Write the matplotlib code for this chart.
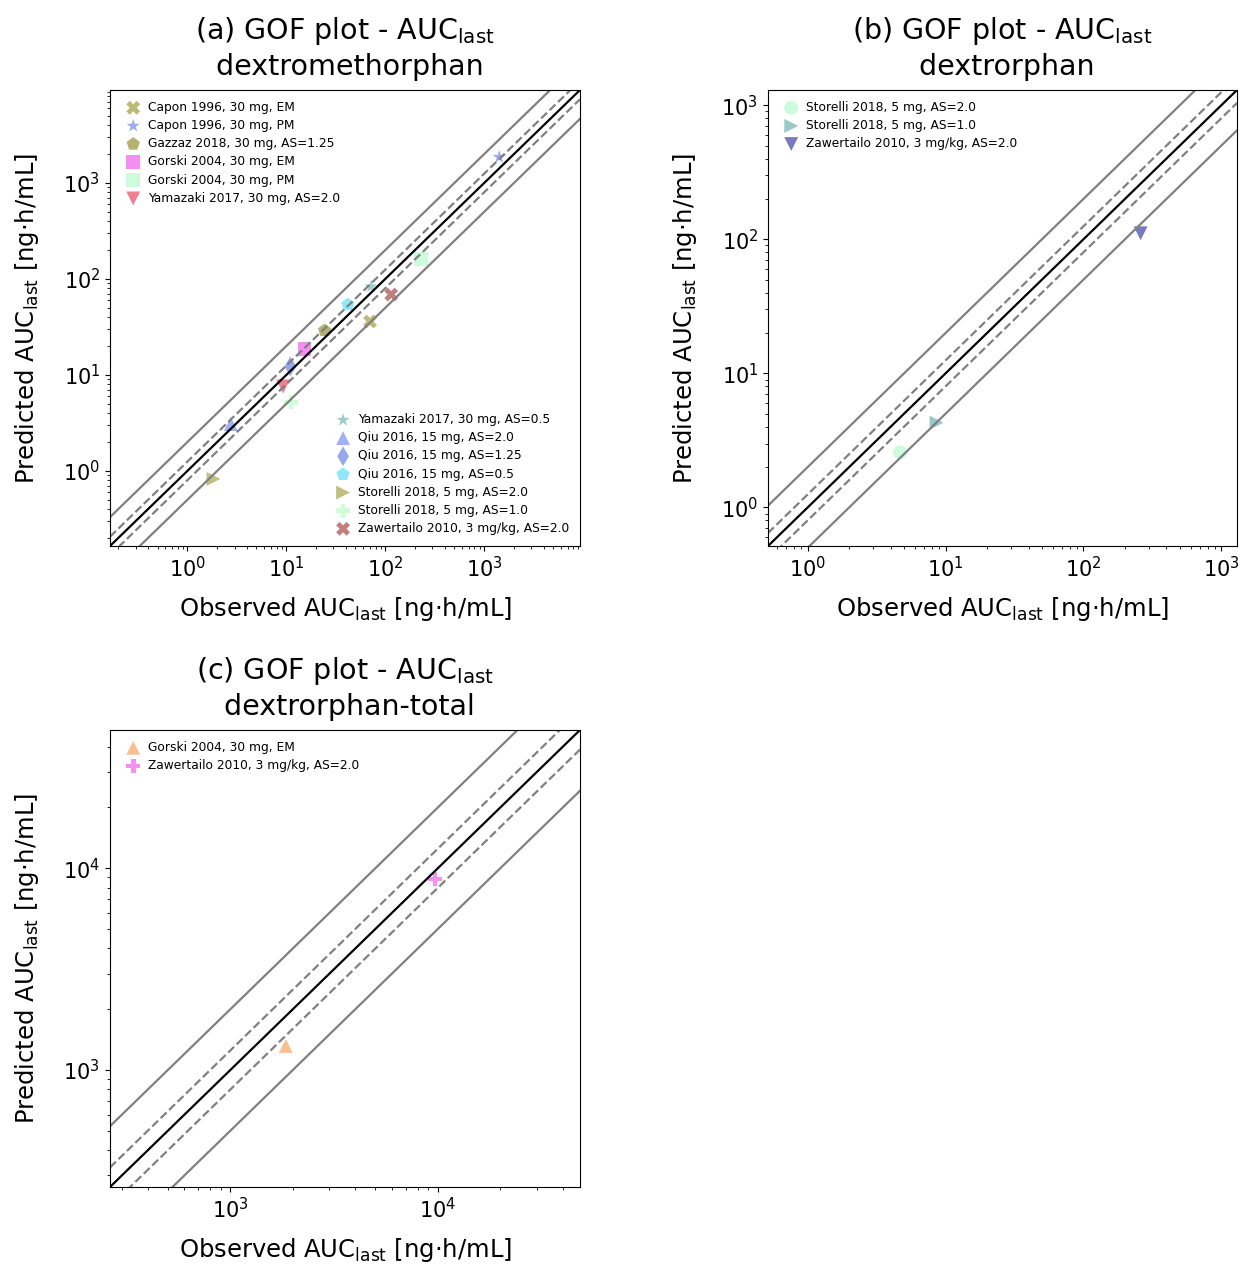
import matplotlib
matplotlib.use('Agg')
import matplotlib.pyplot as plt
import numpy as np

plt.rcParams['font.family'] = ['DejaVu Sans']
plt.rcParams['mathtext.fontset'] = 'dejavusans'

# ---------------- Panel (a): dextromethorphan ----------------
a_labels = ["Capon 1996, 30 mg, EM", "Capon 1996, 30 mg, PM",
            "Gazzaz 2018, 30 mg, AS=1.25", "Gorski 2004, 30 mg, EM",
            "Gorski 2004, 30 mg, PM", "Yamazaki 2017, 30 mg, AS=2.0",
            "Yamazaki 2017, 30 mg, AS=0.5", "Qiu 2016, 15 mg, AS=2.0",
            "Qiu 2016, 15 mg, AS=1.25", "Qiu 2016, 15 mg, AS=0.5",
            "Storelli 2018, 5 mg, AS=2.0", "Storelli 2018, 5 mg, AS=1.0",
            "Zawertailo 2010, 3 mg/kg, AS=2.0"]
a_obs = [70.3, 1423, 24.4, 15.3, 228, 9.3, 72, 2.75, 11.0, 41.9, 1.84, 11.2, 115]
a_pred = [36.1, 1866, 29.1, 18.5, 163, 7.6, 83.4, 3.08, 12.3, 54.2, 0.826, 5.2, 68.9]
a_markers = ['X', '*', 'p', 's', 's', 'v', '*', '^', 'd', 'p', '>', 'P', 'X']
a_colors = ['#bdba78', '#a0aaf0', '#b4b26e', '#f48ef0', '#ccfcdc', '#ee8090',
            '#a0cccc', '#a0b0f0', '#98a8ec', '#90e8f8', '#c0c080', '#d0fcd8',
            '#c47e7e']

# ---------------- Panel (b): dextrorphan ----------------
b_labels = ["Storelli 2018, 5 mg, AS=2.0", "Storelli 2018, 5 mg, AS=1.0",
            "Zawertailo 2010, 3 mg/kg, AS=2.0"]
b_obs = [4.69, 8.62, 260]
b_pred = [2.58, 4.29, 111]
b_markers = ['o', '>', 'v']
b_colors = ['#ccfcdc', '#98c8c8', '#7a7ac0']

# ---------------- Panel (c): dextrorphan-total ----------------
c_labels = ["Gorski 2004, 30 mg, EM", "Zawertailo 2010, 3 mg/kg, AS=2.0"]
c_obs = [1849, 9670]
c_pred = [1315, 8825]
c_markers = ['^', 'P']
c_colors = ['#f8c090', '#f490f0']

titles = ["(a) GOF plot - AUC$_{\\mathrm{last}}$\n dextromethorphan",
          "(b) GOF plot - AUC$_{\\mathrm{last}}$\n dextrorphan",
          "(c) GOF plot - AUC$_{\\mathrm{last}}$\n dextrorphan-total"]
xlab = "Observed AUC$_{\\mathrm{last}}$ [ng·h/mL]"
ylab = "Predicted AUC$_{\\mathrm{last}}$ [ng·h/mL]"

fig = plt.figure(figsize=(12.48, 12.64), dpi=100)
W, H = 1248, 1264


def add_ax(l, t, r, b):
    return fig.add_axes([l / W, 1 - b / H, (r - l) / W, (b - t) / H])


def panel(ax, labels, obs, pred, markers, colors, title, split=None):
    handles = []
    for lab, xo, yp, m, c in zip(labels, obs, pred, markers, colors):
        h = ax.scatter([xo], [yp], marker=m, color=c, s=100, zorder=1,
                       label=lab, edgecolors='none')
        handles.append(h)
    allv = np.array(list(obs) + list(pred))
    lo, hi = allv.min() / 5.0, allv.max() * 5.0
    xx = np.array([lo, hi])
    ax.plot(xx, xx, color='black', lw=1.6, zorder=3)
    for f in (1.25, 1 / 1.25):
        ax.plot(xx, xx * f, color='grey', lw=1.6, ls='--', zorder=2)
    for f in (2.0, 0.5):
        ax.plot(xx, xx * f, color='grey', lw=1.6, zorder=2)
    ax.set_xscale('log')
    ax.set_yscale('log')
    ax.set_xlim(lo, hi)
    ax.set_ylim(lo, hi)
    ax.set_title(title, fontsize=20.5, pad=11, linespacing=1.25)
    ax.set_xlabel(xlab, fontsize=17.5, labelpad=10)
    ax.set_ylabel(ylab, fontsize=17.5, labelpad=16)
    ax.tick_params(labelsize=15)
    kw = dict(frameon=False, fontsize=8.8, handlelength=2.0,
              handletextpad=0.2, labelspacing=0.42, borderaxespad=0.5)
    if split is None:
        ax.legend(handles=handles, loc='upper left', **kw)
    else:
        l1 = ax.legend(handles=handles[:split], loc='upper left', **kw)
        ax.add_artist(l1)
        ax.legend(handles=handles[split:], loc='lower right', **kw)


axa = add_ax(110, 90, 580, 546)
panel(axa, a_labels, a_obs, a_pred, a_markers, a_colors, titles[0], split=6)
axb = add_ax(768, 90, 1237, 546)
panel(axb, b_labels, b_obs, b_pred, b_markers, b_colors, titles[1])
axc = add_ax(110, 730, 580, 1187)
panel(axc, c_labels, c_obs, c_pred, c_markers, c_colors, titles[2])

fig.savefig('out.png', dpi=100)
